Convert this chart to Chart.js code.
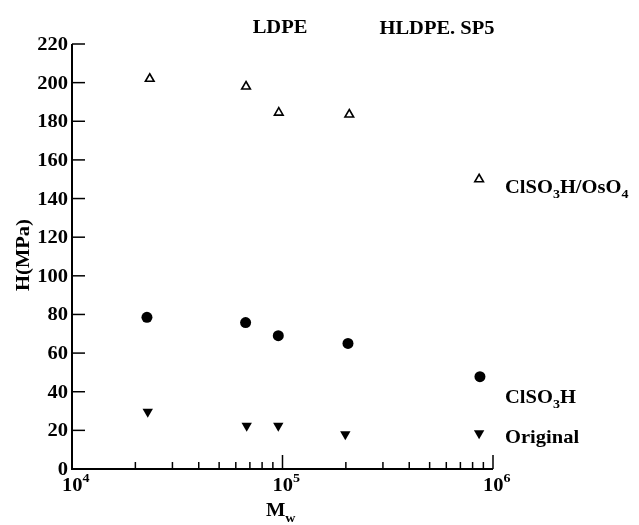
<!DOCTYPE html>
<html>
<head>
<meta charset="utf-8">
<script src="https://cdn.jsdelivr.net/npm/chart.js@4.4.0/dist/chart.umd.min.js"></script>
<style>
html,body{margin:0;padding:0;background:#fff}
#wrap{width:639px;height:525px;position:relative}
</style>
</head>
<body>
<div id="wrap"><canvas id="chart" width="639" height="525"></canvas></div>
<script>
// data
const mwOsO4 = [23400, 67100, 96000, 207600, 859000]
const hOsO4 = [202, 198, 184.5, 183.5, 150]

const mwClSO3H = [22700, 66800, 95500, 204700, 867000]
const hClSO3H = [78.5, 75.8, 69, 65, 47.8]

const mwOrig = [22900, 67600, 95500, 198800, 859000]
const hOrig = [29.7, 22.4, 22.4, 18, 18.5]

const yTicks = [0, 20, 40, 60, 80, 100, 120, 140, 160, 180, 200, 220]
const xMajor = [1e4, 1e5, 1e6]
const xExp = [4, 5, 6]

const FONT = "bold 19px 'Liberation Serif', 'Times New Roman', serif"
const SUPFONT = "bold 13px 'Liberation Serif', 'Times New Roman', serif"
const STRETCH = 1.08

function pts(xs, ys){
  return xs.map((x, i) => ({x: x, y: ys[i]}))
}

// text slightly widened like the scanned type
function txt(ctx, s, x, y, align, font){
  ctx.save()
  ctx.font = font || FONT
  ctx.textBaseline = "alphabetic"
  const w = ctx.measureText(s).width * STRETCH
  let x0 = x
  if(align === "center") x0 = x - w/2
  if(align === "right") x0 = x - w
  ctx.translate(x0, y)
  ctx.scale(STRETCH, 1)
  ctx.textAlign = "left"
  ctx.fillText(s, 0, 0)
  ctx.restore()
  return w
}

// chem formula with subscript digits
function chem(ctx, parts, x, y){
  let cx = x
  parts.forEach(p => {
    if(p.sub){
      cx += txt(ctx, p.t, cx, y + 5, "left", SUPFONT)
    } else {
      cx += txt(ctx, p.t, cx, y, "left")
    }
  })
}

const axesPlugin = {
  id: "axesPlugin",
  afterDraw(chart){
    const ctx = chart.ctx
    const a = chart.chartArea
    const xs = chart.scales.x
    const ys = chart.scales.y
    ctx.save()
    ctx.strokeStyle = "#000"
    ctx.fillStyle = "#000"
    ctx.lineWidth = 2
    ctx.beginPath()
    ctx.moveTo(a.left, a.top)
    ctx.lineTo(a.left, a.bottom)
    ctx.lineTo(a.right, a.bottom)
    ctx.stroke()

    // y ticks, inward
    ctx.lineWidth = 1.5
    yTicks.forEach(v => {
      const py = ys.getPixelForValue(v)
      ctx.beginPath()
      ctx.moveTo(a.left, py)
      ctx.lineTo(a.left + 13, py)
      ctx.stroke()
      txt(ctx, String(v), a.left - 4, py + 6, "right")
    })

    // x ticks, log decades with minors
    for(let e = 4; e < 6; e++){
      for(let m = 2; m <= 9; m++){
        const px = xs.getPixelForValue(m * Math.pow(10, e))
        ctx.beginPath()
        ctx.moveTo(px, a.bottom)
        ctx.lineTo(px, a.bottom - 7)
        ctx.stroke()
      }
    }
    xMajor.forEach((v, i) => {
      const px = xs.getPixelForValue(v)
      ctx.beginPath()
      ctx.moveTo(px, a.bottom)
      ctx.lineTo(px, a.bottom - 14)
      ctx.stroke()
      const w = txt(ctx, "10", px - 10, a.bottom + 22, "left")
      txt(ctx, String(xExp[i]), px - 10 + w, a.bottom + 13, "left", SUPFONT)
    })

    // axis titles
    ctx.save()
    ctx.translate(23, 255)
    ctx.rotate(-Math.PI/2)
    txt(ctx, "H(MPa)", 0, 6, "center")
    ctx.restore()
    const mw = txt(ctx, "M", 266, 516, "left")
    txt(ctx, "w", 266 + mw, 522, "left", SUPFONT)

    // annotations
    txt(ctx, "LDPE", 280, 33, "center")
    txt(ctx, "HLDPE. SP5", 437, 34, "center")
    chem(ctx, [{t:"ClSO"}, {t:"3", sub:true}, {t:"H/OsO"}, {t:"4", sub:true}], 505, 193)
    chem(ctx, [{t:"ClSO"}, {t:"3", sub:true}, {t:"H"}], 505, 403)
    txt(ctx, "Original", 505, 443, "left")
    ctx.restore()
  }
}

new Chart(document.getElementById("chart"), {
  type: "scatter",
  data: {
    datasets: [
      {
        label: "ClSO3H/OsO4",
        data: pts(mwOsO4, hOsO4),
        pointStyle: "triangle",
        radius: 5,
        borderWidth: 1.6,
        borderColor: "#000",
        backgroundColor: "#fff"
      },
      {
        label: "ClSO3H",
        data: pts(mwClSO3H, hClSO3H),
        pointStyle: "circle",
        radius: 5.5,
        borderWidth: 0,
        borderColor: "#000",
        backgroundColor: "#000"
      },
      {
        label: "Original",
        data: pts(mwOrig, hOrig),
        pointStyle: "triangle",
        rotation: 180,
        radius: 6,
        borderWidth: 0,
        borderColor: "#000",
        backgroundColor: "#000"
      }
    ]
  },
  options: {
    responsive: false,
    animation: false,
    layout: {padding: {left: 72, right: 146, top: 44, bottom: 56}},
    plugins: {legend: {display: false}, tooltip: {enabled: false}},
    scales: {
      x: {type: "logarithmic", min: 1e4, max: 1e6, display: false},
      y: {type: "linear", min: 0, max: 220, display: false}
    }
  },
  plugins: [axesPlugin]
})
</script>
</body>
</html>
